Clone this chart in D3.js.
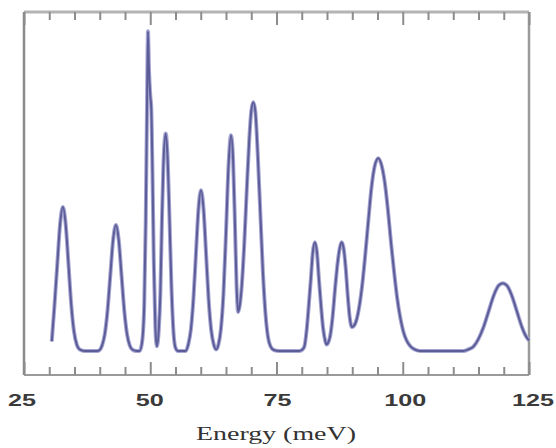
<!DOCTYPE html>
<html>
<head>
<meta charset="utf-8">
<script src="https://cdn.jsdelivr.net/npm/d3@7"></script>
<style>
  body { margin: 0; background: #fff; }
</style>
</head>
<body>
<div id="chart"></div>
<script>
// spectrum: energy (meV) and intensity (arb. units)
var energy = [30.5, 31.05, 31.6, 32.15, 32.7, 33.25, 33.8, 34.35, 34.9, 35.45, 36.0, 37.0, 39.5,
    39.9, 40.45, 41.0, 41.55, 42.1, 42.65, 43.2, 43.75, 44.3, 44.85, 45.4, 45.95, 46.5, 47.3,
    47.9, 48.4, 48.8, 49.1, 49.35, 49.55, 49.75, 50.0, 50.2, 50.45, 50.7, 51.0, 51.3,
    51.7, 52.0, 52.3, 52.6, 53.06, 53.45, 53.8, 54.2, 54.6, 55.0, 55.5, 57.0,
    57.55, 58.05, 58.55, 59.05, 59.55, 60.05, 60.55, 61.05, 61.55, 62.05, 62.55, 63.05,
    63.5, 64.0, 64.5, 65.0, 65.5, 66.0, 66.4, 66.8, 67.1, 67.4,
    67.7, 68.1, 68.6, 69.1, 69.6, 70.0, 70.4, 70.8, 71.3, 71.8, 72.3, 72.8, 73.3, 73.8, 74.5, 75.5, 79.5,
    80.0, 80.5, 81.0, 81.4, 81.8, 82.2, 82.6, 83.0, 83.4, 83.8, 84.2, 84.6, 84.9,
    85.2, 85.6, 86.1, 86.6, 87.1, 87.5, 87.9, 88.3, 88.7, 89.1, 89.5, 89.9,
    90.3, 90.8, 91.4, 92.0, 92.6, 93.2, 93.8, 94.4, 95.15, 95.9, 96.5, 97.1, 97.7, 98.3, 98.9, 99.5, 100.1, 100.7, 101.5, 102.5, 103.5,
    112.0, 113.0, 114.0, 115.0, 116.0, 117.0, 118.0, 119.0, 119.8, 120.6, 121.6, 122.6, 123.6, 124.4, 125.0];

var intensity = [3, 14.6, 27.3, 39.7, 45, 39.7, 27.3, 14.6, 6.1, 2.0, 0.5, 0, 0,
    0.2, 1.7, 5.3, 12.8, 23.9, 34.8, 39.4, 34.8, 23.9, 12.8, 5.3, 1.7, 0.4, 0,
    0, 3, 14, 40, 75, 100, 88, 80, 76, 55, 28, 8, 1.5,
    7, 18, 40, 58, 68, 60, 42, 20, 6, 1, 0, 0,
    2.2, 6.8, 16.3, 30.5, 44.4, 50.3, 44.4, 30.5, 16.3, 6.8, 2.2, 0.5,
    2, 7, 18, 37, 58, 67.5, 60, 38, 20, 12.2,
    14, 20, 33, 50, 66, 75, 77.8, 75, 61, 43, 25, 12, 4.5, 1.5, 0.3, 0, 0,
    0.3, 1.3, 7, 14.5, 22.5, 31, 34, 31, 22.5, 14.5, 7.5, 3.5, 2,
    2.5, 4.5, 10.5, 19.5, 27.5, 32, 34, 32, 26, 17.5, 10.5, 7.5,
    7.8, 9.5, 14, 21, 30.5, 41, 51, 57.5, 60.3, 57.5, 52, 43.5, 33.5, 24.5, 16.5, 10.5, 6.2, 3.5, 1.5, 0.4, 0,
    0, 0.5, 1.4, 3.8, 7.5, 12.4, 17.3, 20.5, 21.2, 20.5, 17.3, 12.4, 7.5, 4.6, 3.3];

var majorTicks = [25, 50, 75, 100, 125];
var minorTicks = [30, 35, 40, 45, 55, 60, 65, 70, 80, 85, 90, 95, 105, 110, 115, 120];
var xTitle = "Energy (meV)";

(function() {
    var width = 556,
        height = 448;

    // plot frame edges (px)
    var x0 = 24, x1 = 529, y0 = 12, y1 = 375;

    var svg = d3.select("#chart")
        .append("svg")
        .attr("width", width)
        .attr("height", height)

    var x = d3.scaleLinear().domain([25, 125]).range([x0, x1]);
    var y = d3.scaleLinear().domain([-7.5, 106]).range([y1, y0]);

    var points = d3.zip(energy, intensity);

    // frame
    svg.append("line").attr("x1", x0).attr("x2", x1).attr("y1", y0).attr("y2", y0)
        .style("stroke", "#b4b4b4").style("stroke-width", 3)
    svg.append("line").attr("x1", x0).attr("x2", x1).attr("y1", y1).attr("y2", y1)
        .style("stroke", "#9a9a9a").style("stroke-width", 2)
    svg.append("line").attr("x1", x0).attr("x2", x0).attr("y1", y0).attr("y2", y1)
        .style("stroke", "#8a8a8a").style("stroke-width", 2.5)
    svg.append("line").attr("x1", x1).attr("x2", x1).attr("y1", y0).attr("y2", y1)
        .style("stroke", "#9a9a9a").style("stroke-width", 2.5)

    // inward ticks, bottom and top
    var axes = [
        [d3.axisBottom(x).tickValues(minorTicks).tickSize(-8), y1],
        [d3.axisBottom(x).tickValues(majorTicks).tickSize(-13), y1],
        [d3.axisTop(x).tickValues(minorTicks).tickSize(-8), y0],
        [d3.axisTop(x).tickValues(majorTicks).tickSize(-13), y0]
    ];
    axes.forEach(function(a) {
        var g = svg.append("g")
            .attr("transform", "translate(0," + a[1] + ")")
            .call(a[0].tickFormat(""))
        g.select(".domain").remove()
        g.selectAll(".tick line").style("stroke", "#8c8c8c").style("stroke-width", 2)
    })

    // tick labels (the picture is a little stretched sideways)
    svg.selectAll(".xlabel")
        .data(majorTicks)
        .enter().append("text")
        .attr("class", "xlabel")
        .attr("x", function(d) { return x(d) - 2 + (d - 25) * 0.06 })
        .attr("y", 406)
        .attr("text-anchor", "middle")
        .attr("textLength", function(d) { return String(d).length * 14 })
        .attr("lengthAdjust", "spacingAndGlyphs")
        .style("font-family", "'Liberation Sans', Arial, sans-serif")
        .style("font-weight", "bold")
        .style("font-size", "17px")
        .style("fill", "#3a3a3a")
        .text(function(d) { return d })

    svg.append("text")
        .attr("x", 276)
        .attr("y", 440)
        .attr("text-anchor", "middle")
        .attr("textLength", 160)
        .attr("lengthAdjust", "spacingAndGlyphs")
        .style("font-family", "'Liberation Serif', 'Times New Roman', serif")
        .style("font-size", "19px")
        .style("fill", "#333")
        .text(xTitle)

    // spectrum
    var line = d3.line()
        .x(function(d) { return x(d[0]) })
        .y(function(d) { return y(d[1]) })
        .curve(d3.curveMonotoneX)

    svg.append("path")
        .datum(points)
        .attr("d", line)
        .style("fill", "none")
        .style("stroke", "#a6a6d2")
        .style("stroke-width", 4)
        .style("stroke-linejoin", "round")

    svg.append("path")
        .datum(points)
        .attr("d", line)
        .style("fill", "none")
        .style("stroke", "#5c5c98")
        .style("stroke-width", 2)
        .style("stroke-linejoin", "round")
})();
</script>
</body>
</html>
